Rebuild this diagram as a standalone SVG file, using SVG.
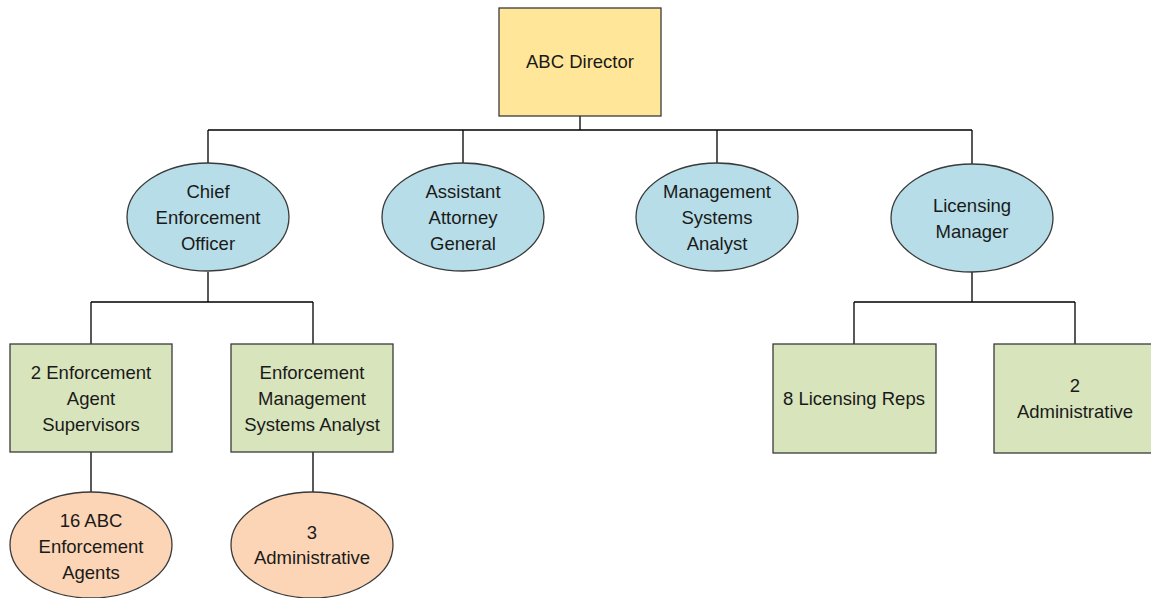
<svg xmlns="http://www.w3.org/2000/svg" width="1151" height="598" viewBox="0 0 1151 598">
<style>
.n{stroke:#3a3a3a;stroke-width:1.3}
.y{fill:#FFE699}.b{fill:#B7DEE8}.g{fill:#D8E4BC}.o{fill:#FBD5B5}
text{font-family:"Liberation Sans",Arial,sans-serif;font-size:18.5px;fill:#1a1a1a;text-anchor:middle}
.c{fill:none;stroke:#000;stroke-width:1.3}
</style>
<rect width="1151" height="598" fill="#fff"/>
<g id="connectors" class="c">
<path d="M580 116V130M208 130H972M208 130V163M463 130V163M717 130V163M972 130V164"/>
<path d="M208 272V302M91 302H313M91 302V344M313 302V344"/>
<path d="M91 452V492M313 452V492"/>
<path d="M972 272V302M854 302H1075M854 302V344M1075 302V344"/>
</g>
<g id="director"><rect class="n y" x="499" y="8" width="162" height="108"/><text x="580" y="68">ABC Director</text></g>
<g id="chief"><ellipse class="n b" cx="208" cy="217" rx="81" ry="54"/><text x="208" y="197.5">Chief</text><text x="208" y="223.5">Enforcement</text><text x="208" y="249.5">Officer</text></g>
<g id="aag"><ellipse class="n b" cx="463" cy="217" rx="81" ry="54"/><text x="463" y="197.5">Assistant</text><text x="463" y="223.5">Attorney</text><text x="463" y="249.5">General</text></g>
<g id="msa"><ellipse class="n b" cx="717" cy="217" rx="81" ry="54"/><text x="717" y="197.5">Management</text><text x="717" y="223.5">Systems</text><text x="717" y="249.5">Analyst</text></g>
<g id="lm"><ellipse class="n b" cx="972" cy="218" rx="81" ry="54"/><text x="972" y="211.5">Licensing</text><text x="972" y="237.5">Manager</text></g>
<g id="eas"><rect class="n g" x="10" y="344" width="162" height="108"/><text x="91" y="378.5">2 Enforcement</text><text x="91" y="404.5">Agent</text><text x="91" y="430.5">Supervisors</text></g>
<g id="emsa"><rect class="n g" x="231" y="344" width="162" height="108"/><text x="312" y="378.5">Enforcement</text><text x="312" y="404.5">Management</text><text x="312" y="430.5">Systems Analyst</text></g>
<g id="agents"><ellipse class="n o" cx="91" cy="545" rx="81" ry="53"/><text x="91" y="526.5">16 ABC</text><text x="91" y="552.5">Enforcement</text><text x="91" y="578.5">Agents</text></g>
<g id="admin3"><ellipse class="n o" cx="312" cy="545" rx="81" ry="53"/><text x="312" y="538.5">3</text><text x="312" y="563.5">Administrative</text></g>
<g id="reps"><rect class="n g" x="773" y="344" width="163" height="109"/><text x="854" y="404.5">8 Licensing Reps</text></g>
<g id="admin2"><rect class="n g" x="994" y="344" width="163" height="109"/><text x="1075" y="391.5">2</text><text x="1075" y="417.5">Administrative</text></g>
</svg>
